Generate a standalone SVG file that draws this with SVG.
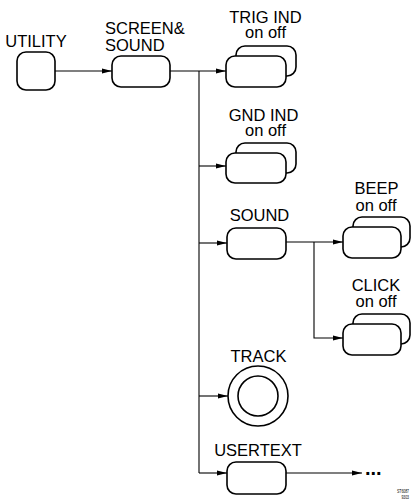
<svg xmlns="http://www.w3.org/2000/svg" width="412" height="502" viewBox="0 0 412 502">
<defs>
<style>
text{font-family:"Liberation Sans",Arial,sans-serif;font-size:16.5px;fill:#000}
.c{text-anchor:middle}
.b{fill:#fff;stroke:#000;stroke-width:1.6}
.l{fill:none;stroke:#000;stroke-width:1.1}
.s{font-size:6px}
</style>
<marker id="ah" markerWidth="10" markerHeight="6" refX="10" refY="3" orient="auto" markerUnits="userSpaceOnUse">
<path d="M0,0.6 L10,3 L0,5.4 Z" fill="#000"/>
</marker>
</defs>
<g id="connectors">
<path class="l" d="M55,71 H112" marker-end="url(#ah)"/>
<path class="l" d="M170,71 H226" marker-end="url(#ah)"/>
<path class="l" d="M199,71 V473"/>
<path class="l" d="M199,166 H226" marker-end="url(#ah)"/>
<path class="l" d="M199,243 H227" marker-end="url(#ah)"/>
<path class="l" d="M199,396 H228" marker-end="url(#ah)"/>
<path class="l" d="M199,473 H227" marker-end="url(#ah)"/>
<path class="l" d="M286,242 H343" marker-end="url(#ah)"/>
<path class="l" d="M314,242 V338 H343" marker-end="url(#ah)"/>
<path class="l" d="M286,473 H362" marker-end="url(#ah)"/>
</g>
<g id="utility">
<text class="c" x="36" y="46.5">UTILITY</text>
<rect class="b" x="17" y="52" width="38" height="38" rx="9"/>
</g>
<g id="screen-sound">
<text x="105" y="34.3">SCREEN&amp;</text>
<text x="105" y="50.7">SOUND</text>
<rect class="b" x="112" y="56" width="58" height="31" rx="9"/>
</g>
<g id="trig-ind">
<text class="c" x="265.5" y="23">TRIG IND</text>
<text class="c" x="265.5" y="38">on off</text>
<rect class="b" x="236" y="46" width="60" height="30" rx="9"/>
<rect class="b" x="226" y="56" width="60" height="31" rx="9"/>
</g>
<g id="gnd-ind">
<text class="c" x="263.5" y="120.5">GND IND</text>
<text class="c" x="265.5" y="135.5">on off</text>
<rect class="b" x="236" y="143" width="60" height="30" rx="9"/>
<rect class="b" x="226" y="153" width="60" height="30" rx="9"/>
</g>
<g id="sound">
<text class="c" x="259.5" y="221">SOUND</text>
<rect class="b" x="227" y="228" width="59" height="31" rx="9"/>
</g>
<g id="beep">
<text class="c" x="376.5" y="194.3">BEEP</text>
<text class="c" x="376" y="210.5">on off</text>
<rect class="b" x="353" y="217" width="57" height="30" rx="9"/>
<rect class="b" x="343" y="227" width="58" height="31" rx="9"/>
</g>
<g id="click">
<text class="c" x="376" y="290.7">CLICK</text>
<text class="c" x="376" y="306.7">on off</text>
<rect class="b" x="353" y="314" width="57" height="30" rx="9"/>
<rect class="b" x="343" y="324" width="58" height="31" rx="9"/>
</g>
<g id="track">
<text class="c" x="258.5" y="362">TRACK</text>
<circle class="b" cx="258" cy="396" r="30"/>
<circle class="b" cx="258" cy="396" r="20"/>
</g>
<g id="usertext">
<text class="c" x="258" y="456">USERTEXT</text>
<rect class="b" x="227" y="462" width="59" height="32" rx="9"/>
</g>
<g id="more">
<text x="365" y="475" style="font-size:20px;font-weight:bold">...</text>
</g>
<g id="code">
<text class="s" x="397" y="493" textLength="12" lengthAdjust="spacingAndGlyphs">ST6087</text>
<text class="s" x="401.5" y="499" style="font-size:5px" textLength="7.5" lengthAdjust="spacingAndGlyphs">9303</text>
</g>
</svg>
